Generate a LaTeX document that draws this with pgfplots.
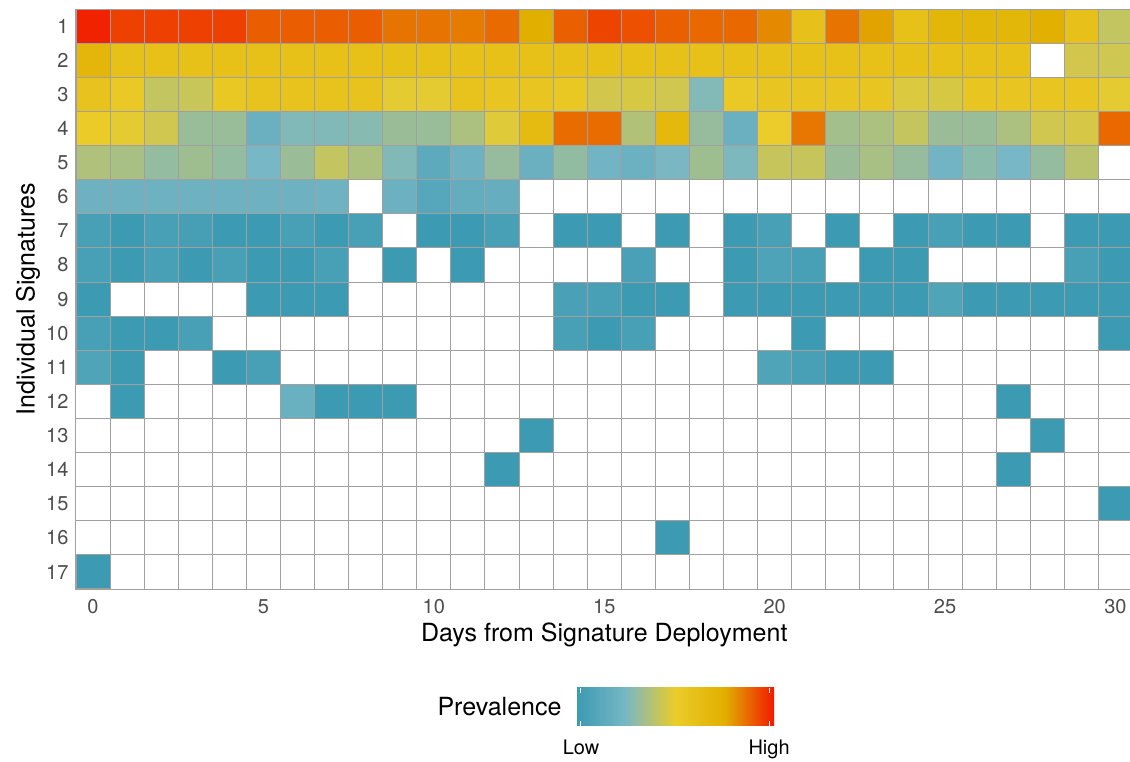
\documentclass[border=0pt]{standalone}
\usepackage{pgfplots}
\usepackage{pgfplotstable}
\usepackage{fontspec}
\setmainfont{TeX Gyre Heros}
\pgfplotsset{compat=1.18}

\definecolor{tickgray}{HTML}{4D4D4D}
\definecolor{gridgray}{HTML}{A0A0A0}

% x = day, y = signature, c = prevalence (0 = low, 4 = high)
\pgfplotstableread{
x y c
0 1 3.95
1 1 3.75
2 1 3.75
3 1 3.75
4 1 3.75
5 1 3.55
6 1 3.55
7 1 3.55
8 1 3.55
9 1 3.40
10 1 3.40
11 1 3.35
12 1 3.46
13 1 3.00
14 1 3.53
15 1 3.72
16 1 3.64
17 1 3.53
18 1 3.48
19 1 3.48
20 1 3.25
21 1 2.38
22 1 3.40
23 1 3.09
24 1 2.43
25 1 2.76
26 1 2.76
27 1 2.76
28 1 2.97
29 1 2.40
30 1 1.65
0 2 2.75
1 2 2.42
2 2 2.42
3 2 2.42
4 2 2.42
5 2 2.42
6 2 2.42
7 2 2.42
8 2 2.42
9 2 2.42
10 2 2.42
11 2 2.42
12 2 2.42
13 2 2.42
14 2 2.42
15 2 2.42
16 2 2.42
17 2 2.42
18 2 2.42
19 2 2.42
20 2 2.42
21 2 2.42
22 2 2.42
23 2 2.42
24 2 2.42
25 2 2.42
26 2 2.42
27 2 2.42
29 2 1.78
30 2 1.75
0 3 2.30
1 3 2.10
2 3 1.65
3 3 1.70
4 3 2.15
5 3 2.30
6 3 2.30
7 3 2.30
8 3 2.30
9 3 1.95
10 3 1.95
11 3 2.30
12 3 2.25
13 3 2.25
14 3 2.15
15 3 1.78
16 3 1.83
17 3 1.76
18 3 1.10
19 3 2.10
20 3 2.25
21 3 2.25
22 3 2.25
23 3 2.25
24 3 1.86
25 3 1.83
26 3 2.25
27 3 2.25
28 3 2.25
29 3 2.25
30 3 1.95
0 4 2.05
1 4 1.95
2 4 1.76
3 4 1.29
4 4 1.29
5 4 0.77
6 4 1.08
7 4 1.08
8 4 1.13
9 4 1.30
10 4 1.29
11 4 1.45
12 4 1.90
13 4 2.60
14 4 3.45
15 4 3.45
16 4 1.50
17 4 2.70
18 4 1.26
19 4 0.77
20 4 2.00
21 4 3.38
22 4 1.37
23 4 1.45
24 4 1.66
25 4 1.30
26 4 1.29
27 4 1.45
28 4 1.76
29 4 1.82
30 4 3.48
0 5 1.48
1 5 1.42
2 5 1.24
3 5 1.34
4 5 1.24
5 5 1.00
6 5 1.30
7 5 1.65
8 5 1.46
9 5 1.08
10 5 0.54
11 5 0.84
12 5 1.26
13 5 0.77
14 5 1.23
15 5 0.90
16 5 0.80
17 5 1.02
18 5 1.34
19 5 1.04
20 5 1.68
21 5 1.68
22 5 1.30
23 5 1.42
24 5 1.26
25 5 0.90
26 5 1.17
27 5 1.00
28 5 1.25
29 5 1.57
0 6 0.84
1 6 0.84
2 6 0.84
3 6 0.84
4 6 0.84
5 6 0.84
6 6 0.84
7 6 0.86
9 6 0.80
10 6 0.45
11 6 0.67
12 6 0.70
0 7 0.21
1 7 0.02
2 7 0.21
3 7 0.18
4 7 0.02
5 7 0.02
6 7 0.20
7 7 0.02
8 7 0.20
10 7 0.02
11 7 0.02
12 7 0.20
14 7 0.02
15 7 0.02
17 7 0.02
19 7 0.02
20 7 0.20
22 7 0.02
24 7 0.02
25 7 0.20
26 7 0.02
27 7 0.02
29 7 0.02
30 7 0.02
0 8 0.20
1 8 0.02
2 8 0.20
3 8 0.02
4 8 0.20
5 8 0.02
6 8 0.02
7 8 0.20
9 8 0.02
11 8 0.02
16 8 0.25
19 8 0.02
20 8 0.32
21 8 0.20
23 8 0.02
24 8 0.02
29 8 0.20
30 8 0.02
0 9 0.02
5 9 0.02
6 9 0.02
7 9 0.02
14 9 0.25
15 9 0.20
16 9 0.02
17 9 0.02
19 9 0.02
20 9 0.02
21 9 0.02
22 9 0.02
23 9 0.02
24 9 0.02
25 9 0.34
26 9 0.02
27 9 0.02
28 9 0.02
29 9 0.02
30 9 0.02
0 10 0.20
1 10 0.02
2 10 0.02
3 10 0.20
14 10 0.20
15 10 0.02
16 10 0.20
21 10 0.02
30 10 0.02
0 11 0.34
1 11 0.02
4 11 0.02
5 11 0.20
20 11 0.34
21 11 0.20
22 11 0.02
23 11 0.02
1 12 0.02
6 12 0.75
7 12 0.02
8 12 0.02
9 12 0.02
27 12 0.02
13 13 0.02
28 13 0.02
12 14 0.02
27 14 0.02
30 15 0.02
17 16 0.02
0 17 0.02
}\prevdata

\begin{document}
\begin{tikzpicture}
\path[use as bounding box] (0pt,0pt) rectangle (1130pt,762pt);
\begin{axis}[
    at={(76pt,173pt)}, anchor=south west,
    width=1056.5pt, height=579.8pt, scale only axis,
    xmin=-0.5, xmax=30.5, ymin=0.5, ymax=17.5,
    y dir=reverse,
    axis on top,
    axis line style={gridgray, line width=1pt},
    xtick={0,5,...,30}, ytick={1,2,...,17},
    minor xtick={-0.5,0.5,...,30.5},
    minor ytick={0.5,1.5,...,17.5},
    grid=minor,
    minor grid style={gridgray, line width=1pt},
    major tick length=0pt, minor tick length=0pt,
    /pgf/number format/assume math mode=true,
    tick label style={font=\fontsize{20}{24}\selectfont, text=tickgray},
    xticklabel style={yshift=-7pt},
    yticklabel style={xshift=-4pt},
    xlabel={Days from Signature Deployment},
    ylabel={Individual Signatures},
    label style={font=\fontsize{25}{30}\selectfont},
    xlabel style={at={(axis description cs:0.5,-0.0793)}, anchor=center},
    ylabel style={at={(axis description cs:-0.0454,0.5)}, anchor=center},
    colormap={zissou}{rgb255=(59,154,178) rgb255=(120,183,197) rgb255=(235,204,42) rgb255=(225,175,0) rgb255=(242,26,0)},
    point meta min=0, point meta max=4,
    colorbar horizontal,
    colorbar/width=38pt,
    colorbar style={
        at={(0.4733,-0.1707)}, anchor=north west,
        width=198pt, height=38pt, scale only axis,
        axis line style={draw=none},
        ytick=\empty,
        xtick={0.1,3.9}, xticklabels={Low,High},
        xtick pos=both, xticklabel pos=lower,
        tick align=inside,
        major tick length=5pt,
        xtick style={white, line width=1pt},
        xticklabel style={font=\fontsize{20}{24}\selectfont, text=black, yshift=-10pt},
    },
]
\addplot[scatter, only marks, mark=square*, mark size=17.04pt,
    scatter src=explicit,
    mark options={line width=1pt},
    scatter/use mapped color={draw=gridgray, fill=mapped color}]
    table[x=x, y=y, meta=c] {\prevdata};
\end{axis}
\node[font=\fontsize{25}{30}\selectfont] at (499.5pt,55pt) {Prevalence};
\end{tikzpicture}
\end{document}
